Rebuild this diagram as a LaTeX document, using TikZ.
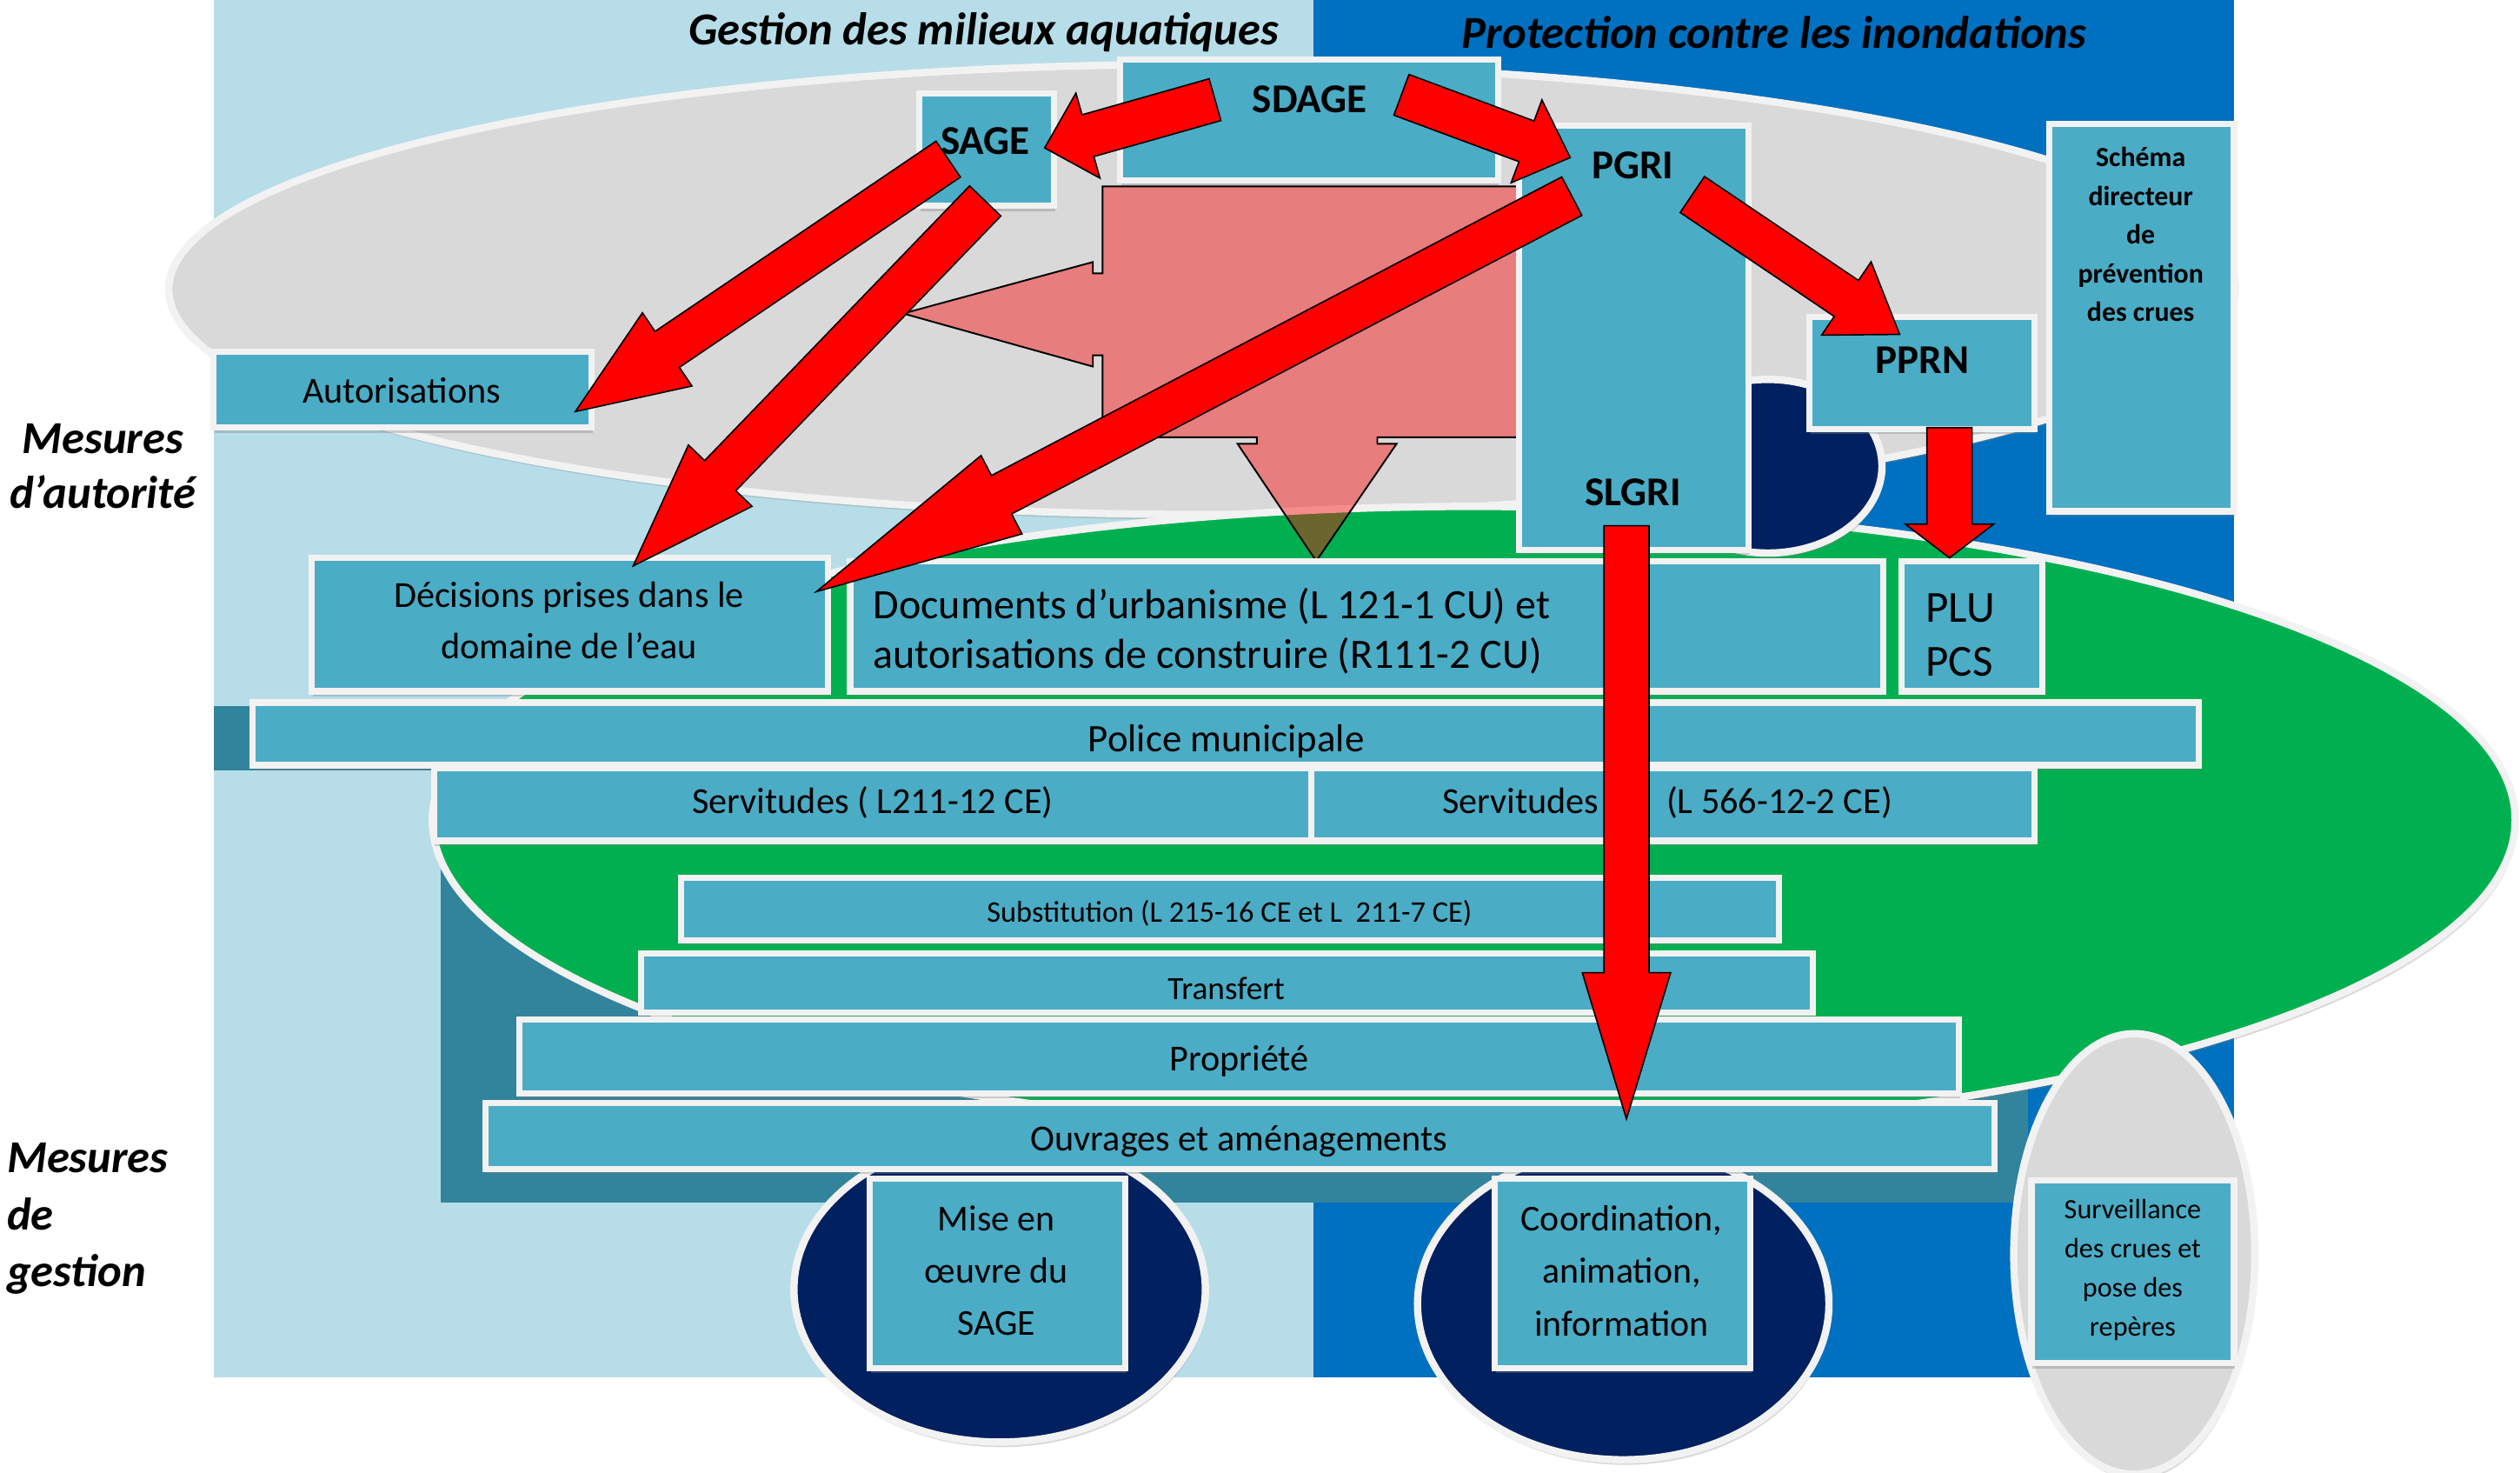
\documentclass[tikz,border=0pt]{standalone}
\usepackage{fontspec}
\setmainfont{Carlito}
\usetikzlibrary{calc,fit,shadows}
\definecolor{lblue}{HTML}{B7DDE8}
\definecolor{dblue}{HTML}{0070C0}
\definecolor{ellgrey}{HTML}{D9D9D9}
\definecolor{egreen}{HTML}{00B050}
\definecolor{tealbg}{HTML}{31849B}
\definecolor{navy}{HTML}{002060}
\definecolor{boxfill}{HTML}{4BACC6}
\definecolor{boxline}{HTML}{F2F2F2}
\tikzset{
  boxst/.style={fill=boxfill, draw=boxline, line width=2.2pt, inner sep=0pt,
    drop shadow={opacity=0.35, shadow xshift=0.4pt, shadow yshift=-1.8pt}},
  ellst/.style={draw=boxline, line width=2.6pt,
    drop shadow={opacity=0.3, shadow xshift=0.6pt, shadow yshift=-1.8pt}},
  txt/.style={inner sep=0pt, align=center, text=black},
  redarr/.style={fill=red, draw=black, line width=0.5pt, line join=miter},
  pinkarr/.style={fill=red, fill opacity=0.42, draw=black, line width=0.6pt},
}
\newcommand\fsz[2]{\fontsize{#1}{#2}\selectfont}
\newcommand\blockarrow[5]{%
  \coordinate (hb) at ($(#2)!#5!(#1)$);
  \draw[redarr] ($(#1)!#3!90:(#2)$) -- ($(hb)!#3!90:(#2)$) -- ($(hb)!#4!90:(#2)$) -- (#2)
    -- ($(hb)!#4!-90:(#2)$) -- ($(hb)!#3!-90:(#2)$) -- ($(#1)!#3!-90:(#2)$) -- cycle;
}
\begin{document}
\begin{tikzpicture}[x=0.02cm,y=-0.02cm]
\useasboundingbox (0,0) rectangle (1568,916);
\fill[white] (0,0) rectangle (1568,916);
% backgrounds
\fill[lblue] (133,0) rectangle (817,857);
\fill[dblue] (817,0) rectangle (1390,857);
% grey ellipse
\path[ellst, fill=ellgrey] (748,180) ellipse [x radius=643, y radius=140];
% dark teal areas
\fill[tealbg] (133,439) rectangle (300,479);
\fill[tealbg] (274,479) rectangle (1262,748);
% green ellipse
\path[ellst, fill=egreen] (917,510) ellipse [x radius=648, y radius=195];
% navy and grey ellipses
\path[ellst, fill=navy] (1100,290) ellipse [x radius=71, y radius=54];
\path[ellst, fill=navy] (622,802) ellipse [x radius=128, y radius=95];
\path[ellst, fill=navy] (1010,811) ellipse [x radius=128, y radius=97];
\path[ellst, fill=ellgrey] (1328,780) ellipse [x radius=75, y radius=137];
% pink composite arrow
\draw[pinkarr] (686,116) -- (944,116) -- (944,272) -- (857,272) -- (857,276) -- (869,276)
  -- (819,349) -- (770,276) -- (782,276) -- (782,272) -- (686,272) -- (686,221) -- (680,221)
  -- (680,228) -- (562,195) -- (680,163) -- (680,170) -- (686,170) -- cycle;
% boxes
\node[boxst, fit={(697,37) (932,112)}] (sdage) {};
\node[boxst, fit={(572,58) (656,128)}] (sage) {};
\node[boxst, fit={(945,78) (1088,342)}] (pgri) {};
\node[boxst, fit={(1126,197) (1266,267)}] (pprn) {};
\node[boxst, fit={(1275,77) (1390,318)}] (schema) {};
\node[boxst, fit={(133,219) (368,266)}] (autor) {};
\node[boxst, fit={(194,347) (515,430)}] (decis) {};
\node[boxst, fit={(529,349) (1172,430)}] (docs) {};
\node[boxst, fit={(1183,349) (1271,430)}] (plu) {};
\node[boxst, fit={(157,437) (1368,476)}] (police) {};
\node[boxst, fit={(270,478) (816,523)}] (serv1) {};
\node[boxst, fit={(816,478) (1266,523)}] (serv2) {};
\node[boxst, fit={(424,546) (1107,585)}] (subst) {};
\node[boxst, fit={(399,593) (1128,630)}] (transf) {};
\node[boxst, fit={(323,634) (1219,680)}] (propr) {};
\node[boxst, fit={(302,686) (1241,727)}] (ouvr) {};
\node[boxst, fit={(541,733) (700,851)}] (mise) {};
\node[boxst, fit={(930,733) (1089,851)}] (coord) {};
\node[boxst, fit={(1264,734) (1390,848)}] (surv) {};
% titles and side labels
\node[txt, font=\fsz{16.2}{19}\bfseries\itshape] (tgest) at (612,20) {Gestion des milieux aquatiques};
\node[txt, font=\fsz{16.2}{19}\bfseries\itshape] (tprot) at (1104,20) {Protection contre les inondations};
\node[txt, font=\fsz{16.2}{19.3}\bfseries\itshape] (tauto) at (64,290) {Mesures\\d’autorité};
\node[txt, font=\fsz{16.2}{20.2}\bfseries\itshape, align=left, anchor=west] (tgestion) at (4,758) {Mesures\\de\\gestion};
% box texts
\node[txt, font=\fsz{14.5}{17}\bfseries] (xsdage) at (815,62) {SDAGE};
\node[txt, font=\fsz{14.5}{17}\bfseries] (xsage) at (613,88) {SAGE};
\node[txt, font=\fsz{14.5}{17}\bfseries] (xpgri) at (1016,103) {PGRI};
\node[txt, font=\fsz{14.5}{17}\bfseries] (xslgri) at (1016,306) {SLGRI};
\node[txt, font=\fsz{14.5}{17}\bfseries] (xpprn) at (1196,224) {PPRN};
\node[txt, font=\fsz{9.8}{13.7}\bfseries] (xschema) at (1332,146) {Schéma\\directeur\\de\\prévention\\des crues};
\node[txt, font=\fsz{13}{15}] (xautor) at (250,243) {Autorisations};
\node[txt, font=\fsz{13}{18.2}] (xdecis) at (354,386) {Décisions prises dans le\\domaine de l’eau};
\node[txt, font=\fsz{14.8}{17.6}, align=left, anchor=west] (xdocs) at (543,392.5) {Documents d’urbanisme (L 121-1 CU) et\\autorisations de construire (R111-2 CU)};
\node[txt, font=\fsz{15.7}{19.3}, align=left, anchor=west] (xplu) at (1198,395) {PLU\\PCS};
\node[txt, font=\fsz{13.8}{16}] (xpolice) at (763,461) {Police municipale};
\node[txt, font=\fsz{13}{15}] (xserv1) at (543,499) {Servitudes ( L211-12 CE)};
\node[txt, font=\fsz{13}{15}, anchor=west] (xserv2) at (897,499) {Servitudes\hspace{0.84cm}(L 566-12-2 CE)};
\node[txt, font=\fsz{10.6}{12}] (xsubst) at (765,568) {Substitution (L 215-16 CE et L~~211-7 CE)};
\node[txt, font=\fsz{11.5}{13}] (xtransf) at (763,615) {Transfert};
\node[txt, font=\fsz{13}{15}] (xpropr) at (771,660) {Propriété};
\node[txt, font=\fsz{13}{15}] (xouvr) at (771,710) {Ouvrages et aménagements};
\node[txt, font=\fsz{12.9}{18.5}] (xmise) at (620,790.5) {Mise en\\œuvre du\\SAGE};
\node[txt, font=\fsz{12.9}{18.5}] (xcoord) at (1009,790.5) {Coordination,\\animation,\\information};
\node[txt, font=\fsz{9.9}{13.8}] (xsurv) at (1327,790) {Surveillance\\des crues et\\pose des\\repères};
% red block arrows
\coordinate (a1t) at (756,62);   \coordinate (a1h) at (650,92);
\coordinate (a2t) at (872,59);   \coordinate (a2h) at (977,98);
\coordinate (a3t) at (590,99);   \coordinate (a3h) at (358,256);
\coordinate (a4t) at (613,125);  \coordinate (a4h) at (394,352);
\coordinate (a5t) at (978,122);  \coordinate (a5h) at (508,368);
\coordinate (a6t) at (1053,121); \coordinate (a6h) at (1182,208);
\coordinate (a7t) at (1213,266); \coordinate (a7h) at (1213,347);
\coordinate (a8t) at (1012,327); \coordinate (a8h) at (1012,696);
\blockarrow{a1t}{a1h}{0.27cm}{0.55cm}{0.56cm}
\blockarrow{a2t}{a2h}{0.27cm}{0.55cm}{0.58cm}
\blockarrow{a3t}{a3h}{0.27cm}{0.55cm}{1.38cm}
\blockarrow{a4t}{a4h}{0.27cm}{0.55cm}{1.56cm}
\blockarrow{a5t}{a5h}{0.27cm}{0.55cm}{2.6cm}
\blockarrow{a6t}{a6h}{0.27cm}{0.55cm}{0.8cm}
\blockarrow{a7t}{a7h}{0.28cm}{0.55cm}{0.42cm}
\blockarrow{a8t}{a8h}{0.28cm}{0.55cm}{1.82cm}
\end{tikzpicture}
\end{document}
